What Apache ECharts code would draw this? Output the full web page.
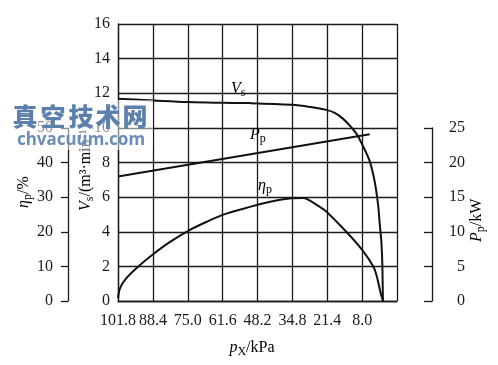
<!DOCTYPE html>
<html><head><meta charset="utf-8">
<script src="https://cdn.jsdelivr.net/npm/echarts@6/dist/echarts.min.js"></script>
<style>html,body{margin:0;padding:0;background:#fff}#c{width:498px;height:365px}</style>
</head><body><div id="c"></div>
<script>
// labelled pressure ticks (kPa), step 13.4
const pressureTicks = [101.8, 88.4, 75.0, 61.6, 48.2, 34.8, 21.4, 8.0];
const pressureStep = 13.4;
// pumping speed Vs (m3/min)
const vsPressure = [101.8, 88.2, 74.8, 61.6, 51.1, 35.1, 28.1, 21.7, 18.5, 15.3, 12.8, 10.2, 8.0, 5.1, 3.2, 1.9, 1.2, 0.6, 0.25, 0.1, 0];
const vsValues   = [11.68, 11.58, 11.49, 11.45, 11.43, 11.33, 11.21, 11.04, 10.86, 10.52, 10.14, 9.67, 9.05, 8.08, 6.92, 5.6, 4.4, 3.4, 2.2, 0.93, 0];
// efficiency eta_p (%)
const etaPressure = [101.8, 101.0, 98.6, 94.0, 88.2, 81.8, 74.8, 67.7, 61.6, 51.1, 43.4, 35.1, 30.6, 25.5, 22.0, 14.1, 8.0, 3.7, 2.5, 1.0, 0];
const etaValues   = [0.8, 3.7, 6.6, 10.0, 13.6, 17.1, 20.3, 22.9, 24.9, 27.2, 28.7, 29.7, 29.8, 27.8, 26.0, 20.0, 14.8, 10.0, 7.5, 2.7, 0];
// shaft power P_p (kW)
const powerPressure = [101.8, 5.1];
const powerValues   = [18.0, 24.1];

const zip = (a, b) => a.map((v, i) => [v, b[i]]);
const xMax = pressureTicks[0];
const xMin = +(pressureTicks[pressureTicks.length - 1] - pressureStep).toFixed(1);

const FONT = 'Liberation Serif';
const TXT = '#1a1a1a';
const LINE = '#1a1a1a';

const chart = echarts.init(document.getElementById('c'), null, {renderer: 'canvas'});

const gridBox = {left: 118, right: 101, bottom: 64};
function hiddenX(i) {
  return {type: 'value', gridIndex: i, inverse: true, min: xMin, max: xMax, interval: pressureStep, show: false};
}
const rich = {
  i: {fontFamily: FONT, fontSize: 16, fontStyle: 'italic', color: TXT},
  s: {fontFamily: FONT, fontSize: 12, color: TXT, padding: [8, 0, 0, 0]},
  n: {fontFamily: FONT, fontSize: 16, color: TXT}
};
function label(x, y, text, rot, align) {
  return {
    type: 'text', x: x, y: y, rotation: rot || 0, z: 50,
    style: {text: text, rich: rich, align: align || 'left', verticalAlign: 'middle', x: 0, y: 0}
  };
}
const wmChars = ['真', '空', '技', '术', '网'];
const wmCenters = [25, 53, 81, 108, 135];

const option = {
  animation: false,
  backgroundColor: '#fff',
  grid: [
    Object.assign({top: 24}, gridBox),
    Object.assign({top: 128}, gridBox),
    Object.assign({top: 128}, gridBox)
  ],
  xAxis: [
    {
      type: 'value', gridIndex: 0, inverse: true, min: xMin, max: xMax, interval: pressureStep,
      axisLine: {show: true, onZero: false, lineStyle: {color: LINE, width: 1.3}},
      axisTick: {show: false},
      axisLabel: {
        margin: 12, fontFamily: FONT, fontSize: 16, color: TXT,
        formatter: v => (v < 0 ? '' : (+v).toFixed(1))
      },
      splitLine: {show: true, lineStyle: {color: LINE, width: 1.3}}
    },
    hiddenX(1), hiddenX(2)
  ],
  yAxis: [
    {
      type: 'value', gridIndex: 0, min: 0, max: 16, interval: 2,
      axisLine: {show: true, onZero: false, lineStyle: {color: LINE, width: 1.3}},
      axisTick: {show: false},
      axisLabel: {margin: 8, fontFamily: FONT, fontSize: 16, color: TXT},
      splitLine: {show: true, lineStyle: {color: LINE, width: 1.3}}
    },
    {
      type: 'value', gridIndex: 1, position: 'left', offset: 50, min: 0, max: 50, interval: 10,
      axisLine: {show: true, onZero: false, lineStyle: {color: LINE, width: 1.3}},
      axisTick: {show: true, length: 7, lineStyle: {color: LINE, width: 1.3}},
      axisLabel: {margin: 15, fontFamily: FONT, fontSize: 16, color: TXT},
      splitLine: {show: false}
    },
    {
      type: 'value', gridIndex: 2, position: 'right', offset: 35, min: 0, max: 25, interval: 5,
      axisLine: {show: true, onZero: false, lineStyle: {color: LINE, width: 1.3}},
      axisTick: {show: true, inside: true, length: 8, lineStyle: {color: LINE, width: 1.3}},
      axisLabel: {margin: 33, align: 'right', fontFamily: FONT, fontSize: 16, color: TXT},
      splitLine: {show: false}
    }
  ],
  series: [
    {type: 'line', xAxisIndex: 0, yAxisIndex: 0, data: zip(vsPressure, vsValues), showSymbol: false,
     smooth: 0.35, silent: true, lineStyle: {color: '#111', width: 2}},
    {type: 'line', xAxisIndex: 1, yAxisIndex: 1, data: zip(etaPressure, etaValues), showSymbol: false,
     smooth: 0.3, silent: true, lineStyle: {color: '#111', width: 2}},
    {type: 'line', xAxisIndex: 2, yAxisIndex: 2, data: zip(powerPressure, powerValues), showSymbol: false,
     silent: true, lineStyle: {color: '#111', width: 2}}
  ],
  graphic: [
    label(231, 89, '{i|V}{s|s}'),
    label(250, 135, '{i|P}{s|p}'),
    label(258, 186, '{i|η}{s|p}'),
    label(252, 348, '{i|p}{s|X}{n|/kPa}', 0, 'center'),
    label(86, 211, '{i|V}{s|s}{n|/(m³·min⁻¹)}', Math.PI / 2),
    label(24, 208, '{i|η}{s|p}{n|/%}', Math.PI / 2),
    label(477, 242, '{i|P}{s|p}{n|/kW}', Math.PI / 2),
    {type: 'rect', z: 60, shape: {x: 8, y: 100, width: 145, height: 50},
     style: {fill: 'rgba(255,255,255,0.5)'}}
  ].concat(wmChars.map((ch, k) => ({
    type: 'text', z: 61, x: wmCenters[k], y: 116,
    style: {text: ch, fontFamily: 'Noto Sans CJK SC', fontWeight: 900, fontSize: 25,
            fill: '#5b80ab', align: 'center', verticalAlign: 'middle'}
  }))).concat([{
    type: 'text', z: 61, x: 81, y: 140,
    style: {text: 'chvacuum.com', fontFamily: 'Noto Sans', fontWeight: 'bold', fontSize: 17,
            fill: '#6b8db6', align: 'center', verticalAlign: 'middle'}
  }])
};
chart.setOption(option);
</script>
</body></html>
